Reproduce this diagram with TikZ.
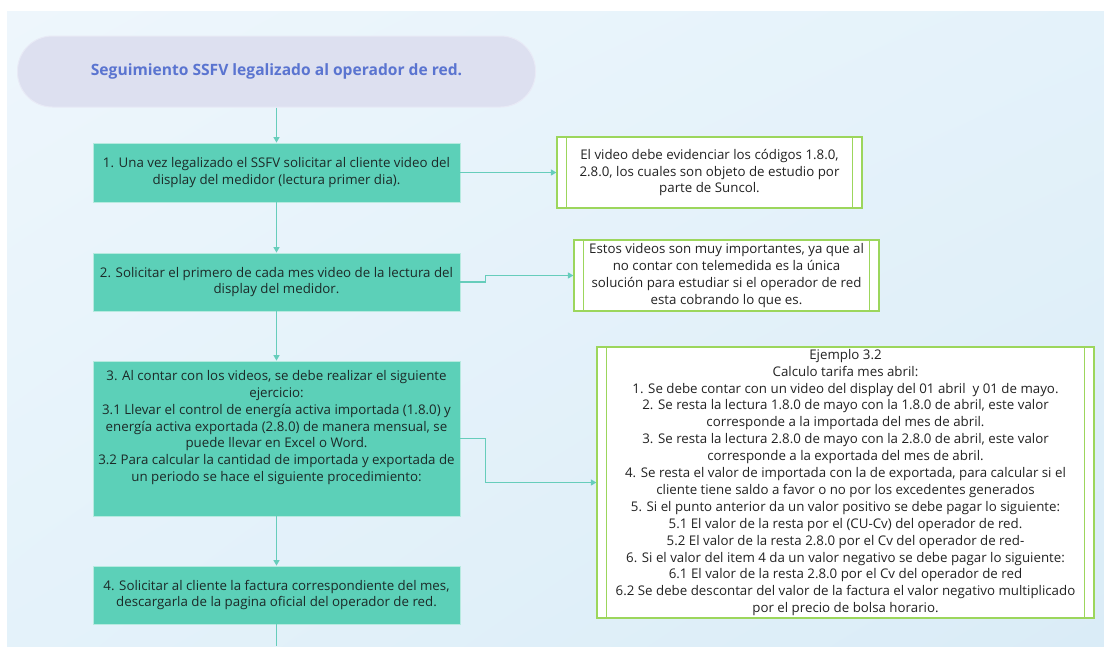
\documentclass[tikz,border=0pt]{standalone}
\usepackage{fontspec}
\setmainfont{Open Sans}
\usetikzlibrary{arrows.meta,shadings}
\definecolor{stepfill}{HTML}{5CD0B8}
\definecolor{linec}{HTML}{66CDBB}
\definecolor{notegreen}{HTML}{9CD65C}
\definecolor{pillfill}{HTML}{DDE0F0}
\definecolor{pilledge}{HTML}{E8EAF6}
\definecolor{titleblue}{HTML}{5A74D0}
\definecolor{steptxt}{HTML}{1C2A28}
\definecolor{notetxt}{HTML}{222222}
\definecolor{bgA}{HTML}{EEF6FC}
\definecolor{bgB}{HTML}{E4F2FA}
\definecolor{bgC}{HTML}{DAECF7}
\begin{document}
\begin{tikzpicture}[x=1pt,y=-1pt,
  txtfont/.style={font=\fontsize{13.3}{16.9}\selectfont},
  stepbox/.style={draw=white!55!stepfill, line width=0.8pt, fill=stepfill, text=steptxt, align=center, inner sep=0pt, txtfont, minimum width=367pt},
  notebox/.style={draw=notegreen, line width=1.2pt, fill=white, text=notetxt, align=center, inner sep=0pt, txtfont},
  pill/.style={draw=pilledge, line width=1pt, fill=pillfill, rounded corners=35pt, minimum width=518pt, minimum height=71pt, text=titleblue, font=\fontsize{15.6}{18}\selectfont\bfseries},
  conn/.style={draw=linec, line width=1.3pt, -{Triangle[length=5.5pt,width=6pt]}},
  plainconn/.style={draw=linec, line width=1.3pt},
  innerline/.style={draw=notegreen, line width=1.1pt}
]
\useasboundingbox (0,0) rectangle (1104,646);
\fill[white] (0,0) rectangle (1104,646);
\shade[upper left=bgA, upper right=bgB, lower left=bgB, lower right=bgC] (7,11) rectangle (1104,646);

% title
\node[pill] (title) at (276.5,71.5) {Seguimiento SSFV legalizado al operador de red.};

% steps
\node[stepbox, minimum height=59pt] (s1) at (276.5,172.5) {1. Una vez legalizado el SSFV solicitar al cliente video del\\display del medidor (lectura primer dia).};
\node[stepbox, minimum height=58pt] (s2) at (276.5,282) {2. Solicitar el primero de cada mes video de la lectura del\\display del medidor.};
\node[stepbox, minimum height=155pt] (s3) at (276.5,438.5) {};
\node[anchor=north, align=center, inner sep=0pt, text=steptxt, txtfont] (s3t) at (276.5,370) {3. Al contar con los videos, se debe realizar el siguiente\\ejercicio:\\3.1 Llevar el control de energía activa importada (1.8.0) y\\energía activa exportada (2.8.0) de manera mensual, se\\puede llevar en Excel o Word.\\3.2 Para calcular la cantidad de importada y exportada de\\un periodo se hace el siguiente procedimiento:};
\node[stepbox, minimum height=58pt] (s4) at (276.5,595) {4. Solicitar al cliente la factura correspondiente del mes,\\descargarla de la pagina oficial del operador de red.};
\coordinate (bot) at (276.5,646);

% notes
\node[notebox, minimum width=305pt, minimum height=71pt] (n1) at (709.5,172.5) {El video debe evidenciar los códigos 1.8.0,\\2.8.0, los cuales son objeto de estudio por\\parte de Suncol.};
\node[notebox, minimum width=305pt, minimum height=71pt] (n2) at (726.5,275.5) {Estos videos son muy importantes, ya que al\\no contar con telemedida es la única\\solución para estudiar si el operador de red\\esta cobrando lo que es.};
\node[notebox, minimum width=497pt, minimum height=271pt] (n3) at (845.5,482.5) {Ejemplo 3.2\\Calculo tarifa mes abril:\\1. Se debe contar con un video del display del 01 abril\ \ y 01 de mayo.\\2. Se resta la lectura 1.8.0 de mayo con la 1.8.0 de abril, este valor\\corresponde a la importada del mes de abril.\\3. Se resta la lectura 2.8.0 de mayo con la 2.8.0 de abril, este valor\\corresponde a la exportada del mes de abril.\\4. Se resta el valor de importada con la de exportada, para calcular si el\\cliente tiene saldo a favor o no por los excedentes generados\\5. Si el punto anterior da un valor positivo se debe pagar lo siguiente:\\5.1 El valor de la resta por el (CU-Cv) del operador de red.\\5.2 El valor de la resta 2.8.0 por el Cv del operador de red-\\6. Si el valor del item 4 da un valor negativo se debe pagar lo siguiente:\\6.1 El valor de la resta 2.8.0 por el Cv del operador de red\\6.2 Se debe descontar del valor de la factura el valor negativo multiplicado\\por el precio de bolsa horario.};

% inner double borders of notes
\foreach \n in {n1,n2,n3}{
  \draw[innerline] ([xshift=10pt]\n.north west) -- ([xshift=10pt]\n.south west);
  \draw[innerline] ([xshift=-10pt]\n.north east) -- ([xshift=-10pt]\n.south east);
}

% connectors
\draw[conn] (title) -- (s1);
\draw[conn] (s1) -- (s2);
\draw[conn] (s2) -- (s3);
\draw[conn] (s3) -- (s4);
\draw[plainconn] (s4) -- (bot);
\draw[conn] (s1.east) -- (n1.west);
\draw[conn] (s2.east) -- ++(25,0) |- (n2.west);
\draw[conn] (s3.east) -- ++(25,0) |- (n3.west);
\end{tikzpicture}
\end{document}
